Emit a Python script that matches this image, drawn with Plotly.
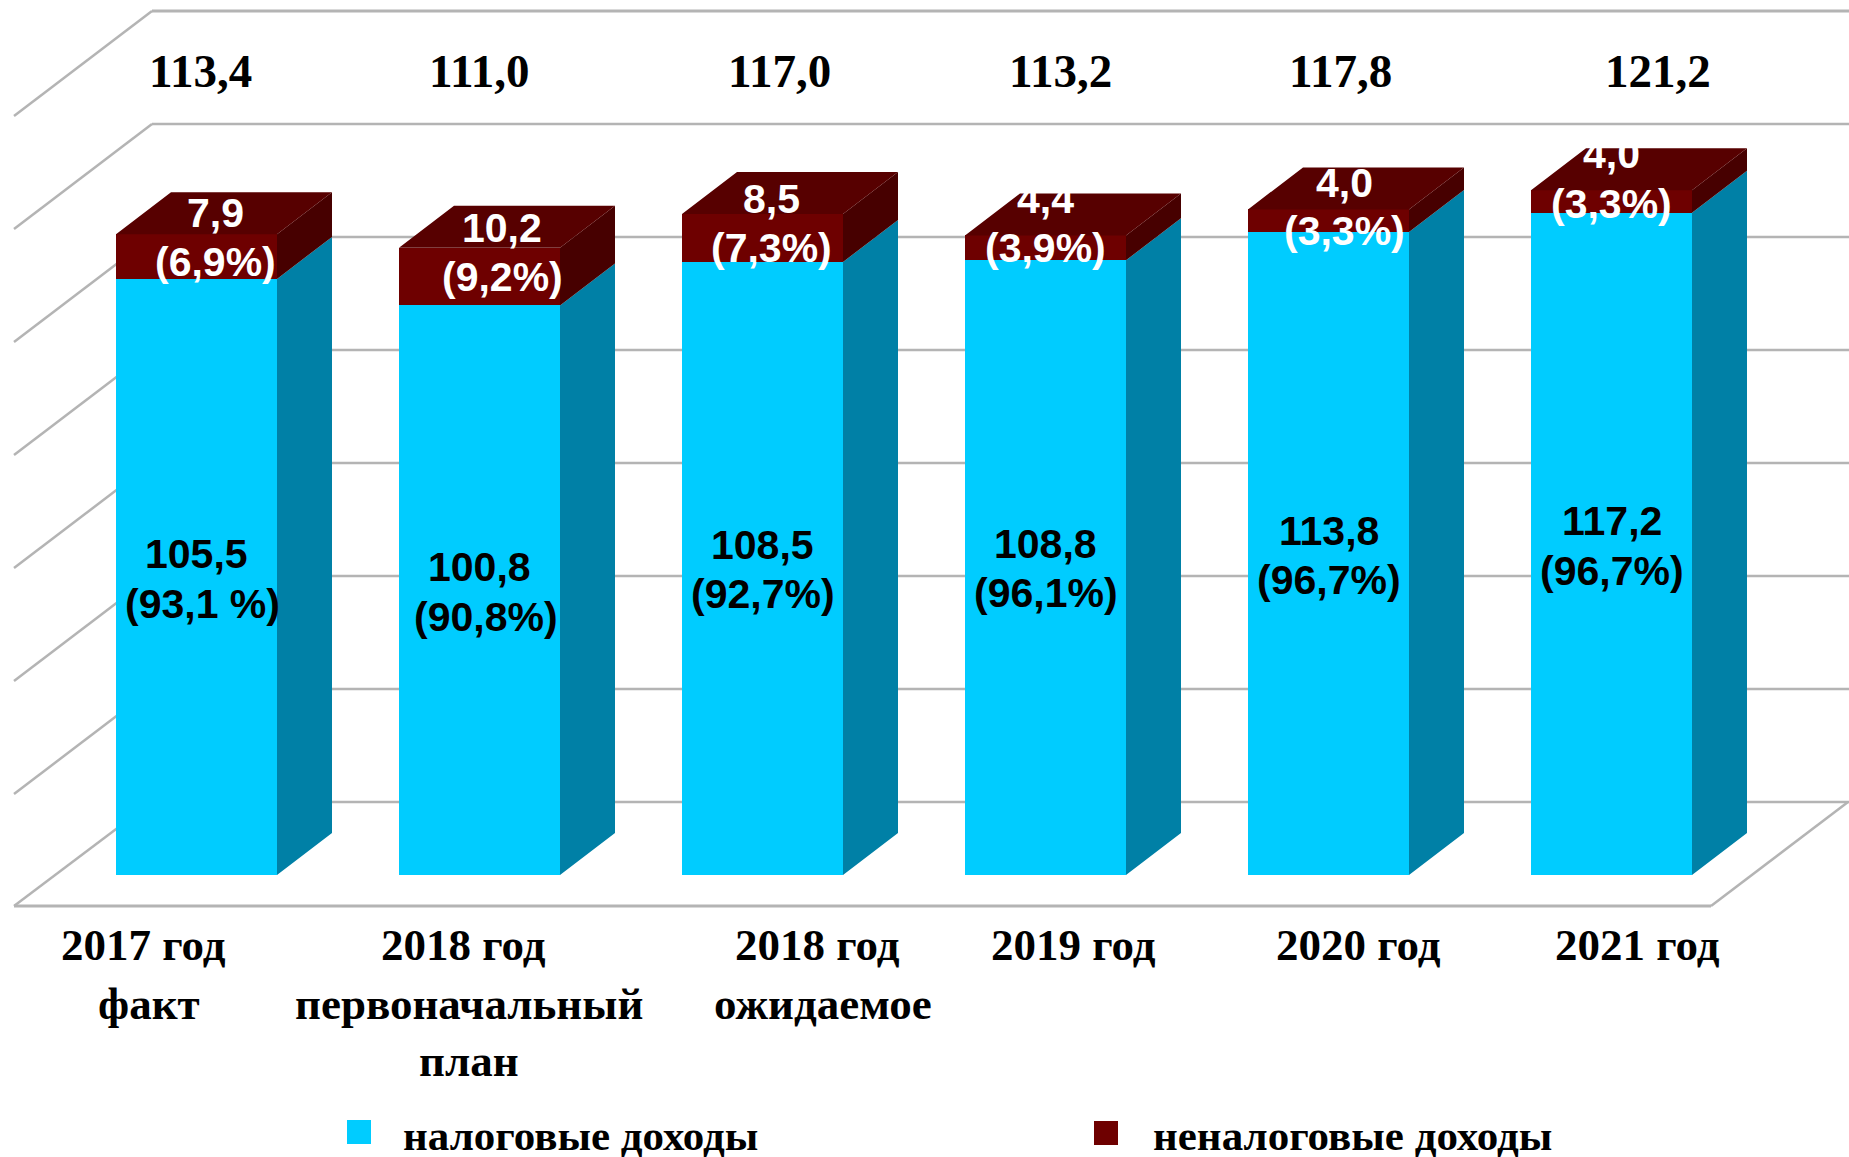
import plotly.graph_objects as go

# ---------- data ----------
categories = ["2017 год<br>факт", "2018 год<br>первоначальный<br>план", "2018 год<br>ожидаемое",
              "2019 год", "2020 год", "2021 год"]
tax_values = [105.5, 100.8, 108.5, 108.8, 113.8, 117.2]
nontax_values = [7.9, 10.2, 8.5, 4.4, 4.0, 4.0]
totals = ["113,4", "111,0", "117,0", "113,2", "117,8", "121,2"]
tax_value_labels = ["105,5", "100,8", "108,5", "108,8", "113,8", "117,2"]
tax_share_labels = ["(93,1 %)", "(90,8%)", "(92,7%)", "(96,1%)", "(96,7%)", "(96,7%)"]
nontax_value_labels = ["7,9", "10,2", "8,5", "4,4", "4,0", "4,0"]
nontax_share_labels = ["(6,9%)", "(9,2%)", "(7,3%)", "(3,9%)", "(3,3%)", "(3,3%)"]
grid_values = [0, 20, 40, 60, 80, 100, 120, 140]
series_names = ["налоговые доходы", "неналоговые доходы"]

# ---------- geometry ----------
W, H = 1849, 1157
SLOT = 283.0
FIRST = 196.5
UNIT = 5.65
BACK_PX = 802.0


def X(px):
    return (px - FIRST) / SLOT


def Y(py):
    return (BACK_PX - py) / UNIT


FRONT_BASE = Y(875)
BAR_W = 161 / SLOT
DX = 55 / SLOT
DY = 42 / UNIT
WALL_L, WALL_R = X(152), X(1849)
WALL_DX = -138 / SLOT
WALL_DY = -105 / UNIT
FLOOR_FRONT = Y(906)

CYAN, CYAN_SIDE = "#00CCFF", "#0080A6"
RED, RED_TOP, RED_SIDE = "#6E0000", "#570000", "#470000"
GRID = "#B4B4B4"

idx = list(range(len(categories)))
tax_tops = [FRONT_BASE + v for v in tax_values]
all_tops = [t + v for t, v in zip(tax_tops, nontax_values)]

fig = go.Figure()
fig.add_bar(x=idx, y=tax_values, base=[FRONT_BASE] * 6, width=BAR_W, marker=dict(color=CYAN, line_width=0))
fig.add_bar(x=idx, y=nontax_values, base=tax_tops, width=BAR_W, marker=dict(color=RED, line_width=0))


def polygons(name, color, rows):
    xs, ys = [], []
    for r in rows:
        xs += [p[0] for p in r] + [r[0][0], None]
        ys += [p[1] for p in r] + [r[0][1], None]
    fig.add_scatter(x=xs, y=ys, mode="lines", fill="toself", fillcolor=color,
                    line=dict(width=0, color=color), name=name, hoverinfo="skip")


def side(lo, hi, i):
    r = i + BAR_W / 2
    return [(r, lo), (r + DX, lo + DY), (r + DX, hi + DY), (r, hi)]


polygons("side tax", CYAN_SIDE, [side(FRONT_BASE, t, i) for i, t in zip(idx, tax_tops)])
polygons("side nontax", RED_SIDE, [side(t, a, i) for i, t, a in zip(idx, tax_tops, all_tops)])
polygons("top nontax", RED_TOP,
         [[(i - BAR_W / 2, a), (i + BAR_W / 2, a), (i + BAR_W / 2 + DX, a + DY), (i - BAR_W / 2 + DX, a + DY)]
          for i, a in zip(idx, all_tops)])

# wall and floor lines, below the bars
shapes = []


def seg(x0, y0, x1, y1, w=2.5):
    shapes.append(dict(type="line", x0=x0, y0=y0, x1=x1, y1=y1, xref="x", yref="y",
                       layer="below", line=dict(color=GRID, width=w)))


for g in grid_values:
    seg(WALL_L, g, WALL_R, g, 3 if g == 140 else 2.5)
    if g:
        seg(WALL_L, g, WALL_L + WALL_DX, g + WALL_DY)
seg(WALL_L, 0, X(14), FLOOR_FRONT)
seg(X(14), FLOOR_FRONT, X(1711), FLOOR_FRONT, 3)
seg(X(1711), FLOOR_FRONT, X(1848), 0)

anns = []


def label(px, py, text, size, color="black", family="Liberation Sans"):
    anns.append(dict(x=X(px), y=Y(py), xref="x", yref="y", text=text, showarrow=False,
                     xanchor="center", yanchor="middle",
                     font=dict(family=family, size=size, color=color)))


S = 1849 / 1568
SERIF = "Liberation Serif"
total_x = [170, 407, 661, 899, 1137, 1406]
for x, t in zip(total_x, totals):
    label(x * S, 60 * S, "<b>%s</b>" % t, 47, family=SERIF)

tax_pos = [(167, 470, 172, 512), (407, 481, 412, 523), (647, 462, 647, 504),
           (887, 461, 887, 503), (1127, 450, 1127, 492), (1367, 442, 1367, 484)]
for (x1, y1, x2, y2), a, b in zip(tax_pos, tax_value_labels, tax_share_labels):
    label(x1 * S, y1 * S, "<b>%s</b>" % a, 41)
    label(x2 * S, y2 * S, "<b>%s</b>" % b, 41)

nontax_pos = [(183, 181, 183, 222), (426, 193, 426, 235), (654, 169, 654, 210),
              (887, 169, 887, 210), (1140, 155, 1140, 196), (1367, 131, 1367, 173)]
for (x1, y1, x2, y2), a, b in zip(nontax_pos, nontax_value_labels, nontax_share_labels):
    label(x1 * S, y1 * S, "<b>%s</b>" % a, 41, "white")
    label(x2 * S, y2 * S, "<b>%s</b>" % b, 41, "white")

cat_lines = [c.split("<br>") for c in categories]
cat_pos = [[(122, 801), (126, 851)],
           [(393, 801), (398, 851), (398, 900)],
           [(693, 801), (698, 851)],
           [(910, 801)], [(1152, 801)], [(1389, 801)]]
for lines, pos in zip(cat_lines, cat_pos):
    for t, (x, y) in zip(lines, pos):
        label(x * S, y * S, "<b>%s</b>" % t, 45, family=SERIF)

# legend
fig.add_scatter(x=[X(359)], y=[Y(1132)], mode="markers", marker=dict(symbol="square", size=24, color=CYAN, line_width=0),
                name=series_names[0], hoverinfo="skip")
fig.add_scatter(x=[X(1106)], y=[Y(1133)], mode="markers", marker=dict(symbol="square", size=24, color=RED, line_width=0),
                name=series_names[1], hoverinfo="skip")
label(580, 1135, "<b>%s</b>" % series_names[0], 43, family=SERIF)
label(1352, 1135, "<b>%s</b>" % series_names[1], 43, family=SERIF)

fig.update_layout(
    width=W, height=H, margin=dict(l=0, r=0, t=0, b=0),
    paper_bgcolor="white", plot_bgcolor="white", showlegend=False, barmode="overlay",
    bargap=0, shapes=shapes, annotations=anns,
    xaxis=dict(range=[X(0), X(W)], visible=False, fixedrange=True),
    yaxis=dict(range=[Y(H), Y(0)], visible=False, fixedrange=True),
)
fig.write_html("out.html", config=dict(displayModeBar=False),
               post_script="document.body.style.margin='0';document.body.style.overflow='hidden';")
